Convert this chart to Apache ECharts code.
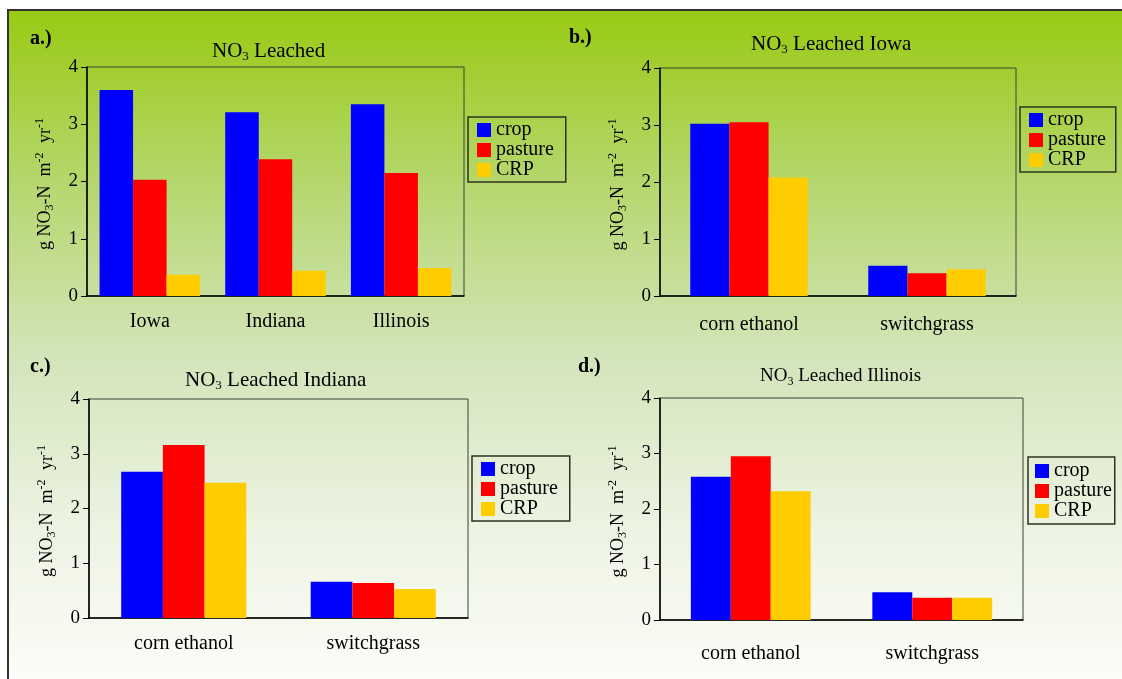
<!DOCTYPE html>
<html>
<head>
<meta charset="utf-8">
<script src="https://cdn.jsdelivr.net/npm/echarts@6/dist/echarts.min.js"></script>
<style>
  html, body { margin: 0; padding: 0; background: #fff; }
  #main { width: 1122px; height: 679px; }
</style>
</head>
<body>
<div id="main"></div>
<script>
// categories
const states = ['Iowa', 'Indiana', 'Illinois'];
const fuels = ['corn ethanol', 'switchgrass'];
const seriesNames = ['crop', 'pasture', 'CRP'];

// a.) NO3 leached by state
const aCrop = [3.60, 3.21, 3.35];
const aPasture = [2.03, 2.39, 2.15];
const aCRP = [0.37, 0.44, 0.49];
// b.) Iowa
const bCrop = [3.02, 0.53];
const bPasture = [3.05, 0.40];
const bCRP = [2.08, 0.47];
// c.) Indiana
const cCrop = [2.67, 0.66];
const cPasture = [3.16, 0.64];
const cCRP = [2.47, 0.53];
// d.) Illinois
const dCrop = [2.58, 0.50];
const dPasture = [2.95, 0.40];
const dCRP = [2.32, 0.40];

const yMin = 0, yMax = 4, yStep = 1;

const serif = '"Liberation Serif", "DejaVu Serif", serif';
const colors = ['#0000ff', '#ff0000', '#ffcc00'];

// layout of the four panels
const panels = [
  { label: 'a.)', title: ' Leached', cats: states, data: [aCrop, aPasture, aCRP],
    grid: { left: 87, top: 67, width: 377, height: 229 }, gap: '20%', xMargin: 16,
    titlePos: [212, 39], titleSize: 21, labelPos: [30, 29],
    legend: { left: 468, top: 117, pad: [3, 12, 2, 9] } },
  { label: 'b.)', title: ' Leached Iowa', cats: fuels, data: [bCrop, bPasture, bCRP],
    grid: { left: 660, top: 68, width: 356, height: 228 }, gap: '34%', xMargin: 19,
    titlePos: [751, 32], titleSize: 21, labelPos: [569, 28],
    legend: { left: 1020, top: 107, pad: [3, 10, 2, 9] } },
  { label: 'c.)', title: ' Leached Indiana', cats: fuels, data: [cCrop, cPasture, cCRP],
    grid: { left: 89, top: 399, width: 379, height: 219 }, gap: '34%', xMargin: 16,
    titlePos: [185, 368], titleSize: 21, labelPos: [30, 357],
    legend: { left: 472, top: 456, pad: [3, 12, 2, 9] } },
  { label: 'd.)', title: ' Leached Illinois', cats: fuels, data: [dCrop, dPasture, dCRP],
    grid: { left: 660, top: 398, width: 363, height: 222 }, gap: '34%', xMargin: 24,
    titlePos: [760, 364], titleSize: 19, labelPos: [578, 357],
    legend: { left: 1028, top: 457, pad: [4, 3, 3, 7] } }
];

const chart = echarts.init(document.getElementById('main'));

const titles = [];
const legends = [];
const grids = [];
const xAxes = [];
const yAxes = [];
const series = [];

panels.forEach((p, i) => {
  titles.push({
    text: p.label, left: p.labelPos[0], top: p.labelPos[1], padding: 0,
    textStyle: { fontFamily: serif, fontSize: 20, fontWeight: 'bold', color: '#000' }
  });
  titles.push({
    text: '{n|NO}{s|3}{n|' + p.title + '}', left: p.titlePos[0], top: p.titlePos[1], padding: 0,
    textStyle: {
      fontWeight: 'normal',
      rich: {
        n: { fontFamily: serif, fontSize: p.titleSize, fontWeight: 'normal', color: '#000', lineHeight: 24 },
        s: { fontFamily: serif, fontSize: Math.round(p.titleSize * 0.62), fontWeight: 'normal', color: '#000', lineHeight: 24, verticalAlign: 'bottom' }
      }
    }
  });
  legends.push({
    left: p.legend.left, top: p.legend.top, orient: 'vertical',
    data: seriesNames, itemWidth: 14, itemHeight: 14, itemGap: 0,
    padding: p.legend.pad, borderColor: '#2d3320', borderWidth: 1.5,
    icon: 'rect', selectedMode: false,
    textStyle: { fontFamily: serif, fontSize: 20, color: '#000', lineHeight: 19 }
  });
  grids.push(Object.assign({ show: true, borderColor: '#3b4230', borderWidth: 1, backgroundColor: 'transparent' }, p.grid));
  xAxes.push({
    type: 'category', gridIndex: i, data: p.cats,
    axisLine: { lineStyle: { color: '#000', width: 1.5 } },
    axisTick: { length: 7, lineStyle: { color: '#000' } },
    axisLabel: { fontFamily: serif, fontSize: 20, color: '#000', margin: p.xMargin }
  });
  yAxes.push({
    type: 'value', gridIndex: i, min: yMin, max: yMax, interval: yStep,
    name: '{t|g NO}{b|3}{t|-N  m}{u|-2}{t| yr}{u|-1}',
    nameLocation: 'middle', nameGap: 31, nameRotate: 90,
    nameTextStyle: {
      rich: {
        t: { fontFamily: serif, fontSize: 18, color: '#000', lineHeight: 22 },
        b: { fontFamily: serif, fontSize: 12, color: '#000', lineHeight: 22, verticalAlign: 'bottom' },
        u: { fontFamily: serif, fontSize: 12, color: '#000', lineHeight: 22, verticalAlign: 'top', padding: [0, 5, 0, 0] }
      }
    },
    axisLine: { show: true, lineStyle: { color: '#000', width: 1.5 } },
    axisTick: { show: true, length: 6, lineStyle: { color: '#000' } },
    splitLine: { show: false },
    axisLabel: { fontFamily: serif, fontSize: 19, color: '#000', margin: 9 }
  });
  p.data.forEach((vals, k) => {
    series.push({
      name: seriesNames[k], type: 'bar', xAxisIndex: i, yAxisIndex: i,
      data: vals, barGap: '0%', barCategoryGap: p.gap,
      itemStyle: { color: colors[k] }, animation: false
    });
  });
});

chart.setOption({
  animation: false,
  color: colors,
  graphic: [{
    type: 'rect', z: -10, silent: true,
    shape: { x: 8, y: 10, width: 1130, height: 700 },
    style: {
      stroke: '#333', lineWidth: 2,
      fill: new echarts.graphic.LinearGradient(0, 0, 0, 1, [
        { offset: 0, color: '#98ca12' },
        { offset: 0.25, color: '#b5d76e' },
        { offset: 0.5, color: '#d3e5bb' },
        { offset: 0.75, color: '#eef4e4' },
        { offset: 1, color: '#fefefc' }
      ])
    }
  }],
  title: titles,
  legend: legends,
  grid: grids,
  xAxis: xAxes,
  yAxis: yAxes,
  series: series
});
</script>
</body>
</html>
